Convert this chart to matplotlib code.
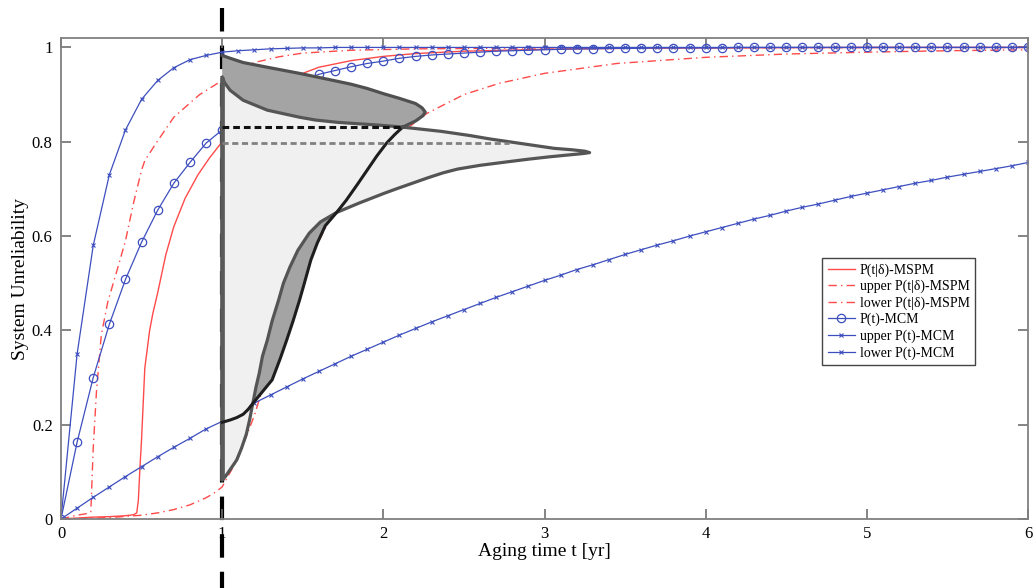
import matplotlib
matplotlib.use("Agg")
import matplotlib.pyplot as plt
import numpy as np

# aging time grid for the MCM curves (markers every 0.1 yr)
t_mcm = np.round(np.arange(0, 6.01, 0.1), 1)

mcm_lower = [0.000, 0.023, 0.046, 0.068, 0.090, 0.111, 0.132, 0.152, 0.171, 0.191,
             0.207, 0.228, 0.246, 0.263, 0.280, 0.297, 0.313, 0.329, 0.345, 0.360,
             0.375, 0.390, 0.404, 0.418, 0.431, 0.444, 0.457, 0.470, 0.482, 0.494,
             0.506, 0.517, 0.529, 0.539, 0.550, 0.561, 0.571, 0.581, 0.590, 0.600,
             0.609, 0.618, 0.627, 0.636, 0.644, 0.653, 0.661, 0.668, 0.676, 0.684,
             0.691, 0.698, 0.705, 0.712, 0.718, 0.725, 0.731, 0.737, 0.743, 0.749,
             0.756]
mcm_upper = [0.000, 0.350, 0.580, 0.730, 0.825, 0.890, 0.930, 0.957, 0.974, 0.983,
             0.990, 0.993, 0.995, 0.997, 0.998, 0.999, 0.999, 1.000, 1.000, 1.000,
             1.000, 1.000, 1.000, 1.000, 1.000, 1.000, 1.000, 1.000, 1.000, 1.000,
             1.000, 1.000, 1.000, 1.000, 1.000, 1.000, 1.000, 1.000, 1.000, 1.000,
             1.000, 1.000, 1.000, 1.000, 1.000, 1.000, 1.000, 1.000, 1.000, 1.000,
             1.000, 1.000, 1.000, 1.000, 1.000, 1.000, 1.000, 1.000, 1.000, 1.000,
             1.000]
mcm_mean = [0.000, 0.163, 0.300, 0.413, 0.508, 0.587, 0.655, 0.712, 0.756, 0.797,
            0.825, 0.852, 0.875, 0.897, 0.915, 0.930, 0.943, 0.951, 0.959, 0.966,
            0.971, 0.977, 0.981, 0.984, 0.986, 0.988, 0.990, 0.992, 0.993, 0.994,
            0.995, 0.996, 0.997, 0.997, 0.998, 0.998, 0.998, 0.999, 0.999, 0.999,
            0.999, 0.999, 1.000, 1.000, 1.000, 1.000, 1.000, 1.000, 1.000, 1.000,
            1.000, 1.000, 1.000, 1.000, 1.000, 1.000, 1.000, 1.000, 1.000, 1.000,
            1.000]

# MSPM curves
t_mspm = [0, 0.1, 0.2, 0.3, 0.4, 0.45, 0.47, 0.48, 0.49, 0.5, 0.52, 0.55, 0.57, 0.6,
          0.65, 0.7, 0.77, 0.85, 0.92, 1.0, 1.1, 1.2, 1.3, 1.4, 1.5, 1.6, 1.8, 2.0,
          2.2, 2.5, 3.0, 3.5, 4.0, 5.0, 6.0]
mspm_mean = [0, 0.002, 0.004, 0.005, 0.007, 0.009, 0.013, 0.04, 0.11, 0.17, 0.32, 0.40,
             0.436, 0.48, 0.56, 0.62, 0.68, 0.73, 0.765, 0.80, 0.84, 0.87, 0.90, 0.925,
             0.945, 0.958, 0.972, 0.981, 0.987, 0.992, 0.996, 0.998, 0.999, 1.0, 1.0]

t_up = [0, 0.1, 0.17, 0.185, 0.19, 0.2, 0.22, 0.25, 0.29, 0.35, 0.4, 0.45, 0.5, 0.52,
        0.59, 0.7, 0.86, 1.0, 1.1, 1.2, 1.35, 1.5, 1.8, 2.2, 3.0, 6.0]
mspm_upper = [0, 0.008, 0.012, 0.015, 0.06, 0.15, 0.27, 0.39, 0.46, 0.53, 0.59, 0.67,
              0.74, 0.76, 0.797, 0.852, 0.90, 0.93, 0.955, 0.968, 0.98, 0.988, 0.994,
              0.997, 0.999, 1.0]

t_lo = [0, 0.3, 0.5, 0.6, 0.7, 0.8, 0.9, 0.95, 1.0, 1.1, 1.2, 1.3, 1.4, 1.5, 1.6, 1.66,
        1.8, 2.0, 2.27, 2.5, 2.72, 3.0, 3.45, 4.0, 4.5, 5.0, 5.5, 6.0]
mspm_lower = [0, 0.003, 0.008, 0.013, 0.02, 0.03, 0.045, 0.055, 0.068, 0.13, 0.22, 0.33,
              0.43, 0.52, 0.59, 0.63, 0.71, 0.79, 0.86, 0.90, 0.924, 0.945, 0.966,
              0.979, 0.986, 0.99, 0.993, 0.995]

# sideways densities at t = 1 yr: (unreliability, width in yr)
pdf_mspm_y = [0.083, 0.09, 0.105, 0.125, 0.15, 0.18, 0.21, 0.245, 0.28, 0.309, 0.345,
              0.379, 0.42, 0.464, 0.50, 0.534, 0.57, 0.606, 0.63, 0.65, 0.67, 0.69,
              0.70, 0.712, 0.724, 0.734, 0.742, 0.75, 0.757, 0.763, 0.768, 0.772,
              0.775, 0.777, 0.78, 0.783, 0.786, 0.793, 0.80, 0.806, 0.813, 0.822,
              0.828, 0.832, 0.836, 0.841, 0.846, 0.852, 0.867, 0.888, 0.909, 0.925,
              0.937]
pdf_mspm_w = [0.0, 0.02, 0.05, 0.09, 0.12, 0.15, 0.17, 0.19, 0.21, 0.23, 0.25,
              0.28, 0.31, 0.35, 0.38, 0.42, 0.47, 0.54, 0.61, 0.71, 0.85, 1.0,
              1.08, 1.18, 1.28, 1.37, 1.46, 1.6, 1.76, 1.9, 2.03, 2.15,
              2.24, 2.28, 2.25, 2.17, 2.06, 1.92, 1.78, 1.66, 1.54, 1.36,
              1.2, 1.09, 0.94, 0.72, 0.58, 0.48, 0.28, 0.13, 0.05, 0.015,
              0.0]

pdf_mcm_y = [0.205, 0.21, 0.215, 0.222, 0.232, 0.245, 0.27, 0.295, 0.34, 0.379, 0.42,
             0.464, 0.50, 0.549, 0.585, 0.622, 0.65, 0.676, 0.71, 0.74, 0.77, 0.797,
             0.815, 0.831, 0.844, 0.855, 0.863, 0.872, 0.881, 0.892, 0.902, 0.913,
             0.922, 0.930, 0.945, 0.958, 0.968, 0.977, 0.983]
pdf_mcm_w = [0.0, 0.05, 0.09, 0.13, 0.16, 0.19, 0.25, 0.31, 0.36, 0.40, 0.44,
             0.48, 0.51, 0.55, 0.59, 0.64, 0.71, 0.77, 0.84, 0.90, 0.96, 1.02,
             1.07, 1.12, 1.2, 1.245, 1.26, 1.24, 1.2, 1.1, 1.0, 0.9,
             0.8, 0.69, 0.48, 0.28, 0.13, 0.05, 0.0]

mean_mcm_t1 = 0.831
mean_mspm_t1 = 0.798
t_cut = 1.0

blue = '#3d4fbf'
red = '#ff4a4a'
serif = ['Liberation Serif', 'DejaVu Serif']

fig = plt.figure(figsize=(10.33, 5.88), dpi=100)
ax = fig.add_axes([61 / 1033, 1 - 519 / 588, 967 / 1033, 481 / 588])

ax.plot(t_mspm, mspm_mean, color=red, lw=1.0, label='P(t|δ)-MSPM', zorder=2)
ax.plot(t_up, mspm_upper, color=red, lw=1.0, ls=(0, (6, 3, 1, 3)),
        label='upper P(t|δ)-MSPM', zorder=2)
ax.plot(t_lo, mspm_lower, color=red, lw=1.0, ls=(0, (6, 3, 1, 3)),
        label='lower P(t|δ)-MSPM', zorder=2)
ax.plot(t_mcm, mcm_mean, color=blue, lw=0.9, marker='o', ms=6, mfc='none', mew=0.9,
        label='P(t)-MCM', zorder=2)
ax.plot(t_mcm, mcm_upper, color=blue, lw=0.9, marker='x', ms=3.5, mew=0.8,
        label='upper P(t)-MCM', zorder=2)
ax.plot(t_mcm, mcm_lower, color=blue, lw=0.9, marker='x', ms=3.5, mew=0.8,
        label='lower P(t)-MCM', zorder=2)

# big dashed marker of t = 1 yr, runs past the axes
ax.plot([t_cut, t_cut], [1.083, -0.18], color='black', lw=3,
        ls=(0, (5.64, 3.38)), clip_on=False, zorder=1)

# MCM density (dark), then MSPM density (light) on top
mcm_x = [t_cut + w for w in pdf_mcm_w]
mspm_x = [t_cut + w for w in pdf_mspm_w]
ax.fill(mcm_x, pdf_mcm_y, facecolor='#a4a4a4', edgecolor='none', zorder=3)
ax.fill(mspm_x, pdf_mspm_y, facecolor='#f0f0f0', edgecolor='none', zorder=4)
ax.plot(mspm_x, pdf_mspm_y, color='#555555', lw=2.3, zorder=5)
ax.plot([t_cut, t_cut], [pdf_mspm_y[0], pdf_mspm_y[-1]], color='#5a5a5a',
        lw=3.4, solid_capstyle='butt', zorder=5)
k = pdf_mcm_y.index(0.831)
ax.plot(mcm_x[:k + 1], pdf_mcm_y[:k + 1], color='#1e1e1e', lw=2.2, zorder=6)
ax.plot(mcm_x[k:], pdf_mcm_y[k:], color='#505050', lw=2.3, zorder=6)

ax.plot([t_cut, t_cut + np.interp(mean_mcm_t1, pdf_mcm_y, pdf_mcm_w)],
        [mean_mcm_t1] * 2, color='#111111', lw=2.2, ls=(0, (2.2, 1.3)), zorder=6)
ax.plot([t_cut, t_cut + 1.78], [mean_mspm_t1] * 2, color='#808080', lw=2.0,
        ls=(0, (2.2, 1.3)), zorder=6)

ax.set_xlim(0, 6)
ax.set_ylim(0, 1.02)
ax.set_xticks([0, 1, 2, 3, 4, 5, 6])
ax.set_xticklabels(['0', '1', '2', '3', '4', '5', '6'])
ax.set_yticks([0, 0.2, 0.4, 0.6, 0.8, 1])
ax.set_yticklabels(['0', '0.2', '0.4', '0.6', '0.8', '1'])
ax.tick_params(direction='in', length=7, width=1.2, color='#707070',
               top=True, right=True, labelsize=12, pad=6)
ax.tick_params(axis='x', pad=5)
for lab in ax.get_xticklabels() + ax.get_yticklabels():
    lab.set_family(serif)
for sp in ax.spines.values():
    sp.set_color('#808080')
    sp.set_linewidth(1.3)

ax.set_xlabel('Aging time t [yr]', family=serif, fontsize=14, labelpad=1)
ax.set_ylabel('System Unreliability', family=serif, fontsize=14, labelpad=2)

leg = ax.legend(loc='upper left', bbox_to_anchor=(0.787, 0.543), borderaxespad=0,
                prop={'family': serif, 'size': 10}, fancybox=False,
                framealpha=1, edgecolor='#444444', handlelength=2.0,
                labelspacing=0.22, borderpad=0.4, handletextpad=0.3)
leg.get_frame().set_linewidth(1.0)

fig.savefig('out.png', dpi=100)
